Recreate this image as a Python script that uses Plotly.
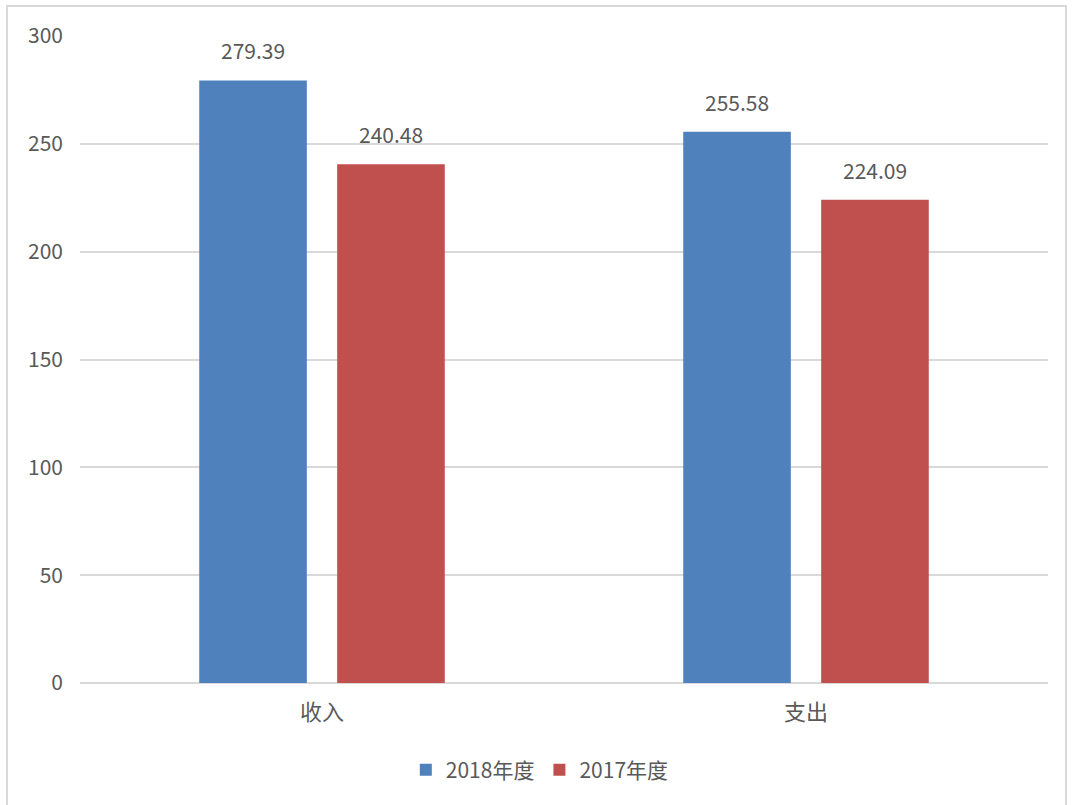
import plotly.graph_objects as go

# Budget figures (unit: 万元) by category and fiscal year
categories = ["收入", "支出"]
series_names = ["2018年度", "2017年度"]
values_2018 = [279.39, 255.58]
values_2017 = [240.48, 224.09]
y_ticks = [0, 50, 100, 150, 200, 250, 300]

colors = ["#4F81BD", "#C0504D"]
text_color = "#595959"
grid_color = "#D9D9D9"
font_family = "Noto Sans CJK SC, Microsoft YaHei, sans-serif"

W, H = 1072, 805
margin = dict(l=80, r=24, t=36, b=122)
bargap = 0.43
bargroupgap = 0.22

fig = go.Figure()
for name, vals, col in zip(series_names, [values_2018, values_2017], colors):
    fig.add_trace(go.Bar(
        name=name, x=categories, y=vals,
        marker=dict(color=col, line=dict(width=0)),
    ))

# value labels placed above each bar, offset to the bar's slot in the group
plot_w = W - margin["l"] - margin["r"]
slot = plot_w / len(categories) * (1 - bargap) / len(series_names)
for si, vals in enumerate([values_2018, values_2017]):
    shift = (si - (len(series_names) - 1) / 2) * slot
    for cat, v in zip(categories, vals):
        fig.add_annotation(
            x=cat, y=v, text=f"{v:.2f}", showarrow=False,
            xshift=shift, yshift=30, yanchor="middle",
            font=dict(size=21, color=text_color, family=font_family),
        )

# light frame around the whole chart
plot_h = H - margin["t"] - margin["b"]
fig.add_shape(
    type="rect", xref="paper", yref="paper",
    x0=(7 - margin["l"]) / plot_w, x1=(1066 - margin["l"]) / plot_w,
    y0=-(H - margin["t"] - plot_h + 20) / plot_h, y1=(plot_h + margin["t"] - 6) / plot_h,
    line=dict(color="#D9D9D9", width=2), fillcolor="rgba(0,0,0,0)", layer="below",
)

fig.update_layout(
    width=W, height=H, margin=margin,
    paper_bgcolor="white", plot_bgcolor="white",
    barmode="group", bargap=bargap, bargroupgap=bargroupgap,
    font=dict(family=font_family, color=text_color, size=21),
    showlegend=True,
    legend=dict(
        orientation="h", x=0.475, xanchor="center",
        y=-(770 - (H - margin["b"])) / plot_h, yanchor="middle",
        font=dict(size=21, color=text_color), itemwidth=30,
        traceorder="normal",
    ),
    xaxis=dict(
        showgrid=False, zeroline=False, showline=False, ticks="",
        tickfont=dict(size=22, color=text_color), ticklabelstandoff=14,
    ),
    yaxis=dict(
        range=[0, 300], tickvals=y_ticks, showgrid=True, gridcolor=grid_color,
        gridwidth=1.5, zeroline=True, zerolinecolor=grid_color, zerolinewidth=1.5,
        showline=False, ticks="", ticklabelstandoff=16,
        tickfont=dict(size=21, color=text_color),
    ),
)

fig.write_html("out.html")
